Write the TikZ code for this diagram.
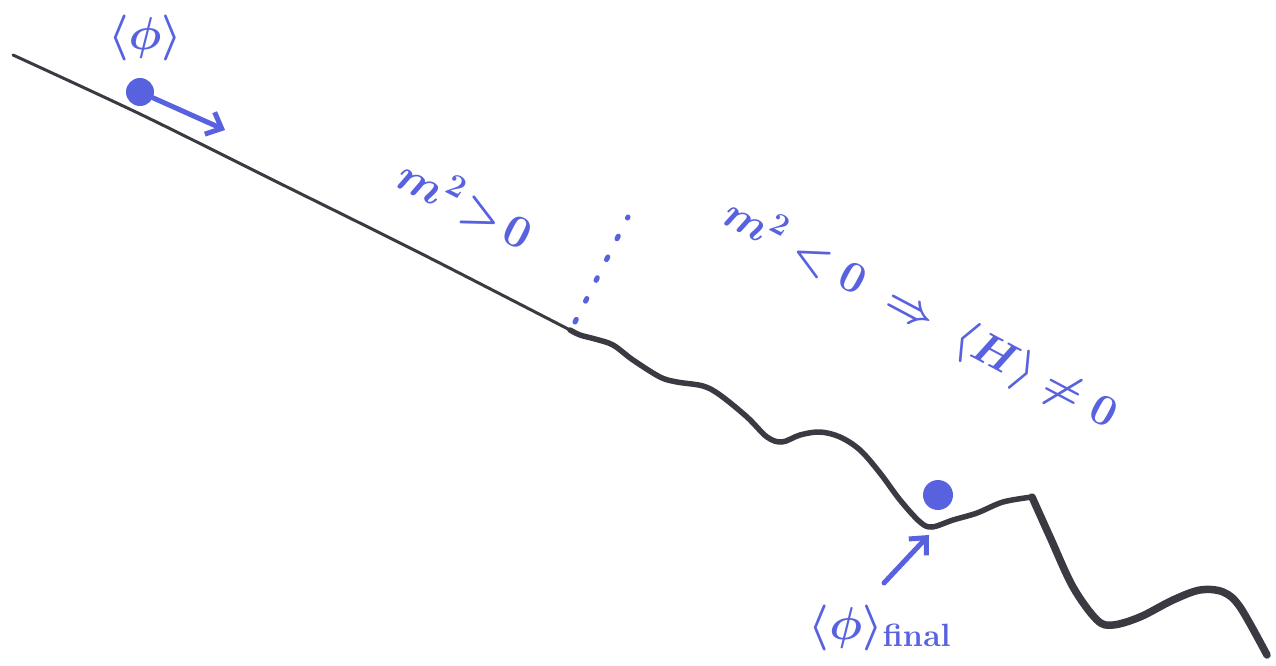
\RequirePackage{fix-cm}
\documentclass[tikz,border=0pt]{standalone}
\usetikzlibrary{arrows.meta}
\definecolor{ink}{RGB}{88,98,222}
\definecolor{pencil}{RGB}{58,58,66}
\begin{document}
\begin{tikzpicture}[x=1pt,y=-1pt,
  hand/.style={text=ink,inner sep=0pt,font=\fontsize{46}{48}\selectfont\boldmath},
  ball/.style={circle,fill=ink,inner sep=0pt,minimum size=28pt},
  push/.style={draw=ink,line width=5pt,line cap=round,line join=round,
    -{Straight Barb[length=13pt,width=24pt,line width=5pt]}},
  slope/.style={draw=pencil,line cap=round,line join=round}]
\useasboundingbox (0,0) rectangle (1276,666);
\fill[white] (0,0) rectangle (1276,666);

% gentle slope where the mass term is positive
\draw[slope,line width=3pt] plot[smooth] coordinates
  {(13,55) (140,114) (273,180) (420,253) (570,330)};

% bumpy potential after the transition
\draw[slope,line width=5.5pt] plot[smooth,tension=0.55] coordinates
  {(570,330) (580,335) (595,339) (613,345) (633,360) (660,377) (677,382)
   (703,386) (720,395) (747,417) (767,437) (782,442) (800,435) (820,432)
   (840,437) (860,450) (880,473) (900,500) (920,522) (932,527) (953,520)
   (977,513) (1003,502) (1032,497)};
\draw[slope,line width=7.5pt] plot[smooth,tension=0.55] coordinates
  {(1032,497) (1050,537) (1073,587) (1097,620) (1113,625) (1140,617)
   (1173,600) (1200,590) (1223,592) (1240,607) (1267,655)};

% dotted marker of the transition point
\draw[ink,line width=5pt,line cap=round,dash pattern=on 3pt off 20.3pt]
  (575,322) -- (628,217);

% field values
\node[ball] (b0) at (140,92) {};
\node[ball,minimum size=30pt] (b1) at (938,495) {};
\coordinate (b0tip) at (225,130);
\draw[push] (b0) -- (b0tip);

\node[hand] (phi0) at (145,38) {$\langle\phi\rangle$};
\node[hand,rotate=-27] (mpos) at (466,203) {$m^2\!>\!0$};
\node[hand,rotate=-28,font=\fontsize{44}{46}\selectfont\boldmath] (mneg) at (920,315)
  {$m^2<0 \;\Rightarrow\; \langle H\rangle\neq 0$};
\node[hand] (phif) at (880,628) {$\langle\phi\rangle_{\mathrm{final}}$};

\coordinate (tail) at (884,583);
\coordinate (valley) at (929,535);
\draw[push] (tail) -- (valley);
\end{tikzpicture}
\end{document}
